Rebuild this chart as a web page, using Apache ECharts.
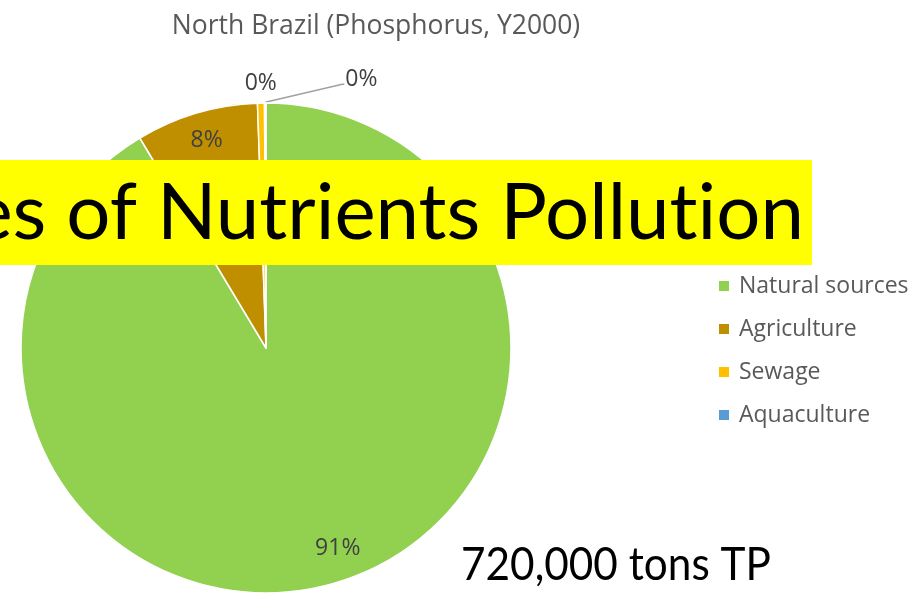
<!DOCTYPE html>
<html>
<head>
<meta charset="utf-8">
<script src="https://cdn.jsdelivr.net/npm/echarts@6/dist/echarts.min.js"></script>
<style>
  html, body { margin: 0; padding: 0; background: #ffffff; }
  #chart { width: 914px; height: 595px; }
</style>
</head>
<body>
<div id="chart"></div>
<script>
// Phosphorus load by source, North Brazil, year 2000 (tons TP)
const categories = ['Natural sources', 'Agriculture', 'Sewage', 'Aquaculture'];
const tons = [658000, 58000, 3300, 700];
const sliceColors = ['#92D050', '#BF8F00', '#FFC000', '#5B9BD5'];
const chartTitle = 'North Brazil (Phosphorus, Y2000)';
const bannerText = 'es of Nutrients Pollution';

const UI_FONT = '"Open Sans", "Noto Sans", sans-serif';
const BIG_FONT = 'Lato, "Open Sans", sans-serif';
const total = tons.reduce((a, b) => a + b, 0);
const totalText = total.toLocaleString('en-US') + ' tons TP';

// draw "t" and "i" as separate runs so the font's ti ligature is not used
const bannerRich = '{w|' + bannerText.replace(/ti/g, 't}{w|i') + '}';

const pctLabel = p => Math.round(p.percent) + '%';

const chart = echarts.init(document.getElementById('chart'), null, { renderer: 'canvas' });

const CENTER = [266, 348];
const R = 245;

// in-slice label nudges (best-fit placement rather than exact mid-angle)
const innerLabelOffset = [[14, -8], [2, 0]];

chart.setOption({
  animation: false,
  backgroundColor: '#ffffff',
  title: {
    text: chartTitle,
    left: 371,
    top: 8,
    textAlign: 'center',
    textStyle: { fontFamily: UI_FONT, fontSize: 26.5, fontWeight: 'normal', color: '#595959' }
  },
  legend: {
    orient: 'vertical',
    left: 712,
    top: 268,
    icon: 'rect',
    itemWidth: 12,
    itemHeight: 12,
    itemGap: 17,
    data: categories,
    textStyle: {
      fontFamily: UI_FONT, fontSize: 23, color: '#595959', lineHeight: 26,
      padding: [0, 0, 0, 4]
    }
  },
  series: [
    {
      // the pie itself; tiny slices carry their own outside labels
      type: 'pie',
      center: CENTER,
      radius: R,
      startAngle: 90,
      clockwise: true,
      avoidLabelOverlap: false,
      itemStyle: { borderColor: '#ffffff', borderWidth: 1.5 },
      label: {
        show: true,
        position: 'outside',
        formatter: pctLabel,
        fontFamily: UI_FONT,
        fontSize: 23,
        color: '#404040'
      },
      labelLine: { show: true, length: 10, length2: 5, lineStyle: { color: '#A0A0A0', width: 1.3 } },
      labelLayout: function (p) {
        const topX = p.rect.x + p.rect.width / 2;
        const topY = p.rect.y;
        if (p.dataIndex === 2) {
          return { x: topX - 1, y: topY - 19, align: 'center', verticalAlign: 'middle' };
        }
        if (p.dataIndex === 3) {
          return {
            x: topX + 80, y: topY - 23, align: 'left', verticalAlign: 'middle',
            labelLinePoints: [[topX, topY], [topX + 77, topY - 18], [topX + 79, topY - 18]]
          };
        }
      },
      emphasis: { disabled: true },
      data: categories.map((name, i) => ({
        name: name,
        value: tons[i],
        itemStyle: { color: sliceColors[i] },
        label: { show: i >= 2 },
        labelLine: { show: i === 3 }
      }))
    },
    {
      // transparent outer ring that carries the in-slice percentage labels
      type: 'pie',
      center: CENTER,
      radius: [R * 0.74, R],
      startAngle: 90,
      clockwise: true,
      silent: true,
      itemStyle: { color: 'transparent', borderWidth: 0 },
      label: {
        show: true,
        position: 'inside',
        formatter: pctLabel,
        fontFamily: UI_FONT,
        fontSize: 23,
        color: '#404040'
      },
      labelLine: { show: false },
      emphasis: { disabled: true },
      data: categories.map((name, i) => ({
        name: name,
        value: tons[i],
        label: { show: i < 2, offset: innerLabelOffset[i] || [0, 0] }
      }))
    }
  ],
  graphic: [
    {
      type: 'rect',
      z: 100,
      shape: { x: 0, y: 160, width: 812, height: 105 },
      style: { fill: '#FFFF00' }
    },
    {
      type: 'text',
      z: 101,
      x: 804,
      y: 214,
      style: {
        text: bannerRich,
        align: 'right',
        verticalAlign: 'middle',
        font: '78px ' + BIG_FONT,
        fill: '#000000',
        rich: {
          w: { fontSize: 78, fontFamily: BIG_FONT, fill: '#000000', lineHeight: 90 }
        }
      }
    },
    {
      type: 'text',
      z: 101,
      x: 461,
      y: 565,
      scaleX: 0.92,
      style: {
        text: totalText,
        align: 'left',
        verticalAlign: 'middle',
        font: '46px ' + BIG_FONT,
        fill: '#000000'
      }
    }
  ]
});
</script>
</body>
</html>
